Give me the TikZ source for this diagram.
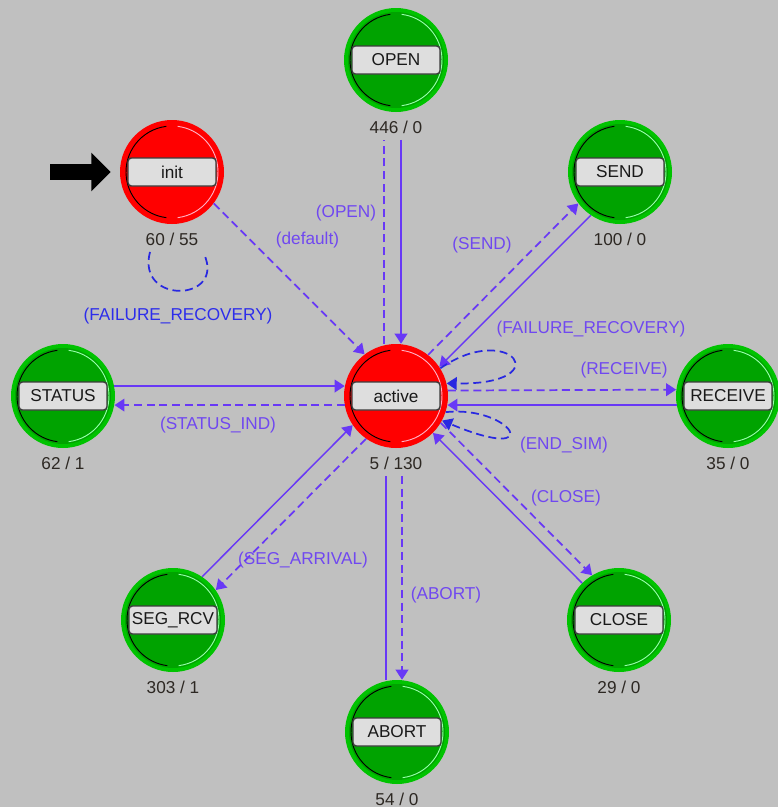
\documentclass[tikz,border=0pt]{standalone}
\usepackage{fontspec}
\setmainfont{Liberation Sans}
\usetikzlibrary{arrows.meta,calc}
\definecolor{bg}{RGB}{192,192,192}
\definecolor{conn}{RGB}{104,56,246}
\definecolor{lblc}{RGB}{112,72,240}
\definecolor{loopc}{RGB}{40,40,225}
\definecolor{loopl}{RGB}{45,45,235}
\definecolor{redring}{RGB}{255,0,0}
\definecolor{redfill}{RGB}{255,0,0}
\definecolor{redlight}{RGB}{255,175,195}
\definecolor{grnring}{RGB}{0,195,0}
\definecolor{grnfill}{RGB}{0,163,0}
\definecolor{grnlight}{RGB}{150,255,170}
\definecolor{boxfill}{RGB}{222,222,222}
\definecolor{boxline}{RGB}{60,60,60}
\definecolor{cntc}{RGB}{45,40,35}
\newcommand\diafont{\fontsize{12.9}{15}\selectfont}
\tikzset{
  statecirc/.style={circle, minimum size=78pt, inner sep=0pt},
  statebox/.style={rectangle, rounded corners=2.5pt, minimum width=66pt, minimum height=21pt,
    fill=boxfill, draw=boxline, line width=1.1pt, font=\diafont, text=black!90, inner sep=0pt},
  cnt/.style={font=\diafont, text=cntc, inner sep=1pt},
  lbl/.style={font=\diafont, text=lblc, inner sep=0pt},
  sconn/.style={draw=conn, line width=1.1pt},
  dconn/.style={draw=conn, line width=1.3pt, dash pattern=on 6pt off 3.5pt},
  lconn/.style={draw=loopc, line width=1.3pt, dash pattern=on 6pt off 3.5pt},
  arr/.style={-{Triangle[length=7.5pt,width=9.5pt]}},
}
% name, x, y, label, counter, ring colour, fill colour, light arc colour
\newcommand\mystate[8]{%
  \node[statecirc, fill=#6] (#1) at (#2,#3) {};
  \fill[#7] (#1.center) circle[radius=36pt];
  \draw[black, line width=0.7pt] (#1.center) ++(97:34.5pt) arc[start angle=97, end angle=263, radius=34.5pt];
  \draw[#8, line width=0.7pt] (#1.center) ++(-83:34.5pt) arc[start angle=-83, end angle=83, radius=34.5pt];
  \node[statebox] (#1-box) at (#1.center) {#4};
  \node[cnt] (#1-cnt) at ([shift={(0,67)}]#1.center) {#5};
}
\begin{document}
\begin{tikzpicture}[x=0.75pt,y=-0.75pt]
\fill[bg] (0,0) rectangle (778,807);
\useasboundingbox (0,0) rectangle (778,807);

\mystate{init}{172}{172}{init}{60 / 55}{redring}{redfill}{redlight}
\mystate{active}{396}{396}{active}{5 / 130}{redring}{redfill}{redlight}
\mystate{open}{396}{60}{OPEN}{446 / 0}{grnring}{grnfill}{grnlight}
\mystate{send}{620}{172}{SEND}{100 / 0}{grnring}{grnfill}{grnlight}
\mystate{status}{63}{396}{STATUS}{62 / 1}{grnring}{grnfill}{grnlight}
\mystate{receive}{728}{396}{RECEIVE}{35 / 0}{grnring}{grnfill}{grnlight}
\mystate{segrcv}{173}{620}{SEG\_RCV}{303 / 1}{grnring}{grnfill}{grnlight}
\mystate{close}{619}{620}{CLOSE}{29 / 0}{grnring}{grnfill}{grnlight}
\mystate{abort}{397}{732}{ABORT}{54 / 0}{grnring}{grnfill}{grnlight}

% entry arrow
\coordinate (entry) at (50,172);
\draw[black, line width=12.5pt, -{Triangle[length=14.5pt,width=28pt]}] (entry) -- ([shift={(-9,0)}]init.west);

% init -> active
\draw[dconn,arr] (init.-37.3) -- (active.127.3);
% OPEN
\draw[sconn,arr] ([shift={(5,5)}]open-cnt.south) -- ([shift={(5,0)}]active.north);
\draw[dconn] ([shift={(-12,0)}]active.north) -- ([shift={(-12,5)}]open-cnt.south);
% SEND
\draw[dconn,arr] (active.52.7) -- (send.217.3);
\draw[sconn,arr] (send.236) -- (active.34);
% RECEIVE
\draw[dconn,arr] (active.6.6) -- (receive.173.4);
\draw[sconn,arr] (receive.190) -- (active.-10);
% CLOSE
\draw[dconn,arr] (active.-31.7) -- (close.121.7);
\draw[sconn,arr] (close.135) -- (active.-45);
% ABORT
\draw[dconn,arr] ([shift={(6,5)}]active-cnt.south) -- ([shift={(5,0)}]abort.north);
\draw[sconn] ([shift={(-11,0)}]abort.north) -- ([shift={(-10,5)}]active-cnt.south);
% SEG_RCV
\draw[dconn,arr] (active.235) -- (segrcv.35);
\draw[sconn,arr] (segrcv.56) -- (active.214);
% STATUS
\draw[sconn,arr] (status.11) -- (active.169);
\draw[dconn,arr] (active.190) -- (status.-10);
% self loops
\draw[lconn,arr] (active.32) .. controls (510,320) and (560,385) .. (active.14);
\draw[lconn,arr] (active.-18) .. controls (512,405) and (548,465) .. (active.-28);
\draw[lconn] ([shift={(-22,5)}]init-cnt.south) .. controls (136,305) and (226,302) .. ([shift={(32,7)}]init-cnt.south);

% labels
\node[lbl] (l-default) at (307.5,240) {(default)};
\node[lbl] (l-open) at (346,213) {(OPEN)};
\node[lbl] (l-send) at (482,245) {(SEND)};
\node[lbl] (l-fr) at (591,329) {(FAILURE\_RECOVERY)};
\node[lbl] (l-receive) at (624,370) {(RECEIVE)};
\node[lbl] (l-endsim) at (564,445) {(END\_SIM)};
\node[lbl] (l-close) at (566,498) {(CLOSE)};
\node[lbl] (l-abort) at (446,595) {(ABORT)};
\node[lbl] (l-seg) at (303,560) {(SEG\_ARRIVAL)};
\node[lbl] (l-status) at (218,425) {(STATUS\_IND)};
\node[lbl, text=loopl] (l-frinit) at (178,316) {(FAILURE\_RECOVERY)};
\end{tikzpicture}
\end{document}
